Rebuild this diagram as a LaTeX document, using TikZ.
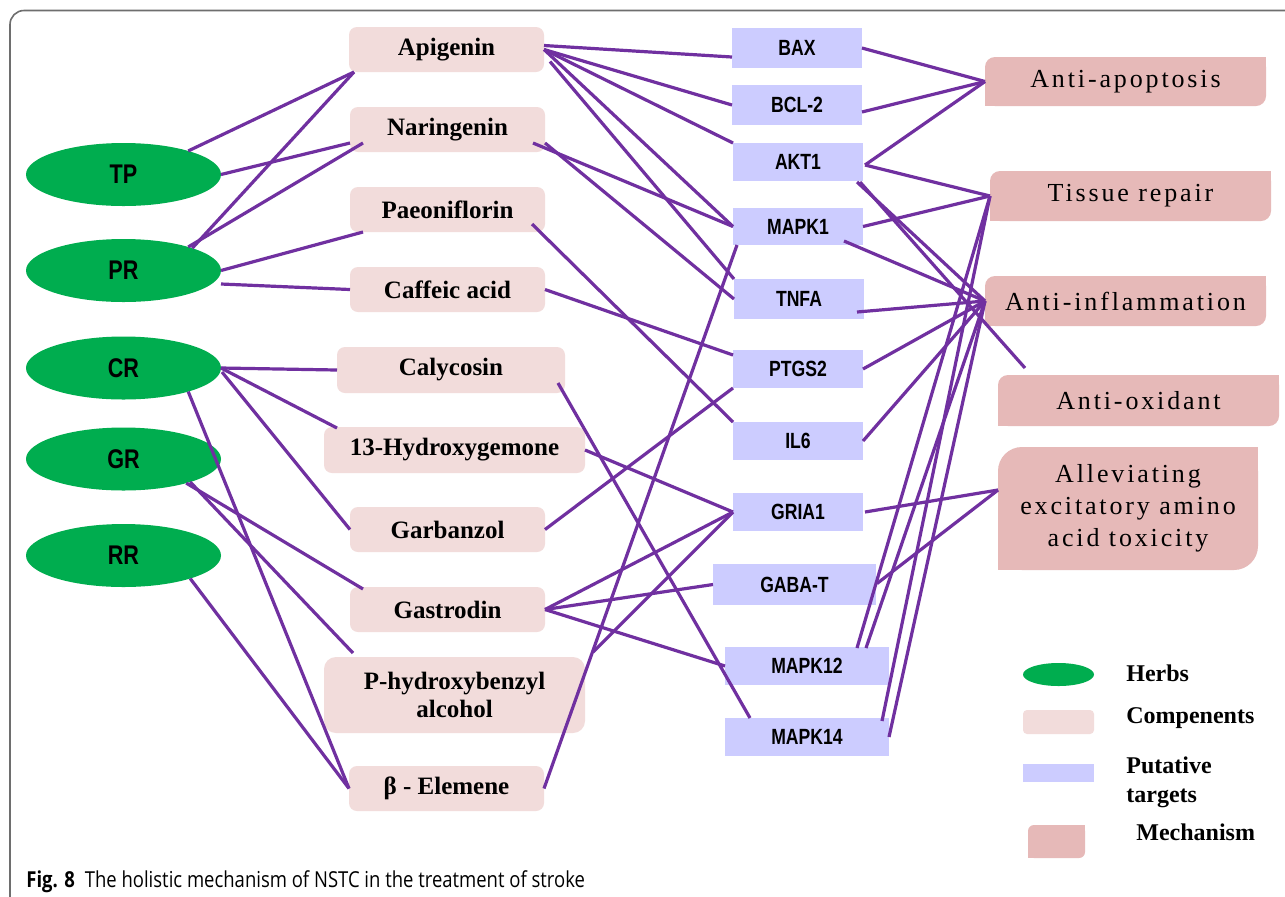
\documentclass[tikz,border=0pt]{standalone}
\usepackage{fontspec}
\usetikzlibrary{shapes.geometric,calc}
\newfontfamily\herbfont{Liberation Sans}[FakeStretch=0.8]
\newfontfamily\compfont{Liberation Serif}
\newfontfamily\mechfont{Liberation Serif}[LetterSpace=11]
\newfontfamily\capfont{Open Sans}[FakeStretch=0.84]
\definecolor{herbcol}{HTML}{00AD4F}
\definecolor{compcol}{HTML}{F2DCDB}
\definecolor{targcol}{HTML}{CCCCFF}
\definecolor{mechcol}{HTML}{E6B9B8}
\definecolor{linkcol}{HTML}{7030A0}
\definecolor{framecol}{HTML}{6E6E6E}
\begin{document}
\begin{tikzpicture}[x=0.5pt,y=-0.5pt,
 herb/.style={ellipse, fill=herbcol, inner sep=0, outer sep=0, minimum width=97.5pt, minimum height=31.5pt,
   font=\herbfont\bfseries\fontsize{13.5}{15}\selectfont},
 comp/.style={rectangle, rounded corners=4pt, fill=compcol, inner sep=0, outer sep=0, minimum width=97.5pt, minimum height=22.5pt,
   font=\compfont\bfseries\fontsize{12.5}{14}\selectfont, align=center},
 targ/.style={rectangle, fill=targcol, inner sep=0, outer sep=0, minimum width=65pt, minimum height=19pt,
   font=\herbfont\bfseries\fontsize{11}{12}\selectfont},
 mech/.style={rectangle, fill=white, inner sep=0, outer sep=0, minimum width=140.5pt, minimum height=25pt,
   font=\mechfont\fontsize{13}{16}\selectfont, align=center,
   path picture={
     \fill[mechcol, rounded corners=#1] (path picture bounding box.south west) rectangle (path picture bounding box.north east);
     \fill[mechcol] (path picture bounding box.north east) rectangle ([xshift=-#1,yshift=-#1]path picture bounding box.north east);
     \fill[mechcol] (path picture bounding box.south west) rectangle ([xshift=#1,yshift=#1]path picture bounding box.south west);
   }},
 mech/.default=5pt,
 legtext/.style={anchor=west, inner sep=0, font=\compfont\bfseries\fontsize{12}{14.5}\selectfont, align=left},
 link/.style={draw=linkcol, line width=1.6pt},
]
\useasboundingbox (0,0) rectangle (1285,896);
\fill[white] (0,0) rectangle (1285,896);
% frame
\draw[framecol, line width=0.8pt, rounded corners=7pt] (10,905) -- (10,10.5) -- (1295,10.5);

% herbs
\node[herb] (TP) at (123.5,174.5) {TP};
\node[herb] (PR) at (123.5,270.5) {PR};
\node[herb] (CR) at (123.5,368) {CR};
\node[herb] (GR) at (123.5,459) {GR};
\node[herb] (RR) at (123.5,555.5) {RR};

% components
\node[comp] (Apig) at (446.5,49.5) {Apigenin};
\node[comp] (Nar) at (447.5,129.5) {Naringenin};
\node[comp] (Pae) at (447.5,209.5) {Paeoniflorin};
\node[comp] (Caf) at (447.5,289.5) {Caffeic acid};
\node[comp, minimum width=114pt, minimum height=23pt] (Caly) at (451,370) {Calycosin};
\node[comp, minimum width=130.5pt, minimum height=23pt] (Hyd) at (454.5,450) {13-Hydroxygemone};
\node[comp] (Garb) at (447.5,529.5) {Garbanzol};
\node[comp] (Gas) at (447.5,609.5) {Gastrodin};
\node[comp, minimum width=130.5pt, minimum height=38pt, rounded corners=6pt] (PHB) at (454.5,695) {P-hydroxybenzyl\\alcohol};
\node[comp] (Elem) at (446.5,788.5) {β - Elemene};

% targets
\node[targ, minimum height=20pt] (BAX) at (797,48) {BAX};
\node[targ, minimum height=20pt] (BCL) at (797,105) {BCL-2};
\node[targ] (AKT) at (798,162) {AKT1};
\node[targ, minimum height=18.5pt] (MAPKa) at (798,226.5) {MAPK1};
\node[targ, minimum height=20pt] (TNFA) at (799,299) {TNFA};
\node[targ] (PTG) at (798,369) {PTGS2};
\node[targ] (IL) at (798,441) {IL6};
\node[targ] (GRIA) at (798,512) {GRIA1};
\node[targ, minimum width=81.5pt, minimum height=20.5pt] (GABA) at (794.5,584.5) {GABA-T};
\node[targ, minimum width=82pt] (MAPKb) at (807,666) {MAPK12};
\node[targ, minimum width=82pt] (MAPKc) at (807,737) {MAPK14};

% mechanisms
\node[mech, minimum height=24.5pt] (AA) at (1125.5,81.5) {Anti-apoptosis};
\node[mech] (TR) at (1130.5,196) {Tissue repair};
\node[mech] (AI) at (1125.5,301) {Anti-inflammation};
\node[mech, minimum height=25.5pt] (AO) at (1138.5,400.5) {Anti-oxidant};
\node[mech=12pt, minimum width=130pt, minimum height=61.5pt] (AL) at (1128,508.5) {Alleviating\\excitatory amino\\acid toxicity};
\coordinate (aoend) at ($(AO.north west)+(27,-7)$);
\coordinate (alend) at ($(AL.north west)+(0,43)$);

% legend
\node[herb, minimum width=35.5pt, minimum height=11.5pt] (LH) at (1058.5,674.5) {};
\node[comp, minimum width=35.5pt, minimum height=12pt, rounded corners=2pt] (LC) at (1058.5,722) {};
\node[targ, minimum width=35.5pt, minimum height=9pt] (LT) at (1058.5,773) {};
\node[mech=3pt, minimum width=28.5pt, minimum height=16.5pt] (LM) at (1056.5,841.5) {};
\node[legtext] (LHt) at (1126,673) {Herbs};
\node[legtext] (LCt) at (1126,718) {Compenents};
\node[legtext] (LTt) at (1126,782.5) {Putative\\targets};
\node[legtext] (LMt) at (1136,832) {Mechanism};

% caption
\node[anchor=base west, inner sep=0, font=\capfont\fontsize{11}{13}\selectfont] (cap) at (26,887)
  {\textbf{Fig. 8}\hspace{5pt}The holistic mechanism of NSTC in the treatment of stroke};

% herb -> component
\draw[link] (TP.20) -- ($(Apig.south west)+(5,0)$);
\draw[link] (TP.east) -- ($(Nar.south west)+(0,-9)$);
\draw[link] (PR.18) -- ($(Apig.south west)+(5,0)$);
\draw[link] (PR.20) -- ($(Nar.south west)+(13,-9)$);
\draw[link] (PR.east) -- ($(Pae.south west)+(13,0)$);
\draw[link] ($(PR.east)+(0,13.5)$) -- (Caf.west);
\draw[link] (CR.east) -- (Caly.west);
\draw[link] (CR.east) -- ($(Hyd.north west)+(13,1)$);
\draw[link] ($(CR.east)+(1,4)$) -- (Garb.west);
\draw[link] (CR.-20) -- (Elem.west);
\draw[link] (GR.-19) -- ($(PHB.north west)+(29,-4)$);
\draw[link] (GR.-21) -- ($(Gas.north west)+(13,2)$);
\draw[link] (RR.-19) -- (Elem.west);

% component -> target
\draw[link] ($(Apig.east)+(0,-4)$) -- ($(BAX.west)+(0,9)$);
\draw[link] (Apig.east) -- (BCL.west);
\draw[link] (Apig.east) -- (AKT.north west);
\draw[link] (Apig.east) -- (MAPKa.west);
\draw[link] ($(Apig.east)+(6,12)$) -- (TNFA.north west);
\draw[link] ($(Nar.south east)+(-12,-9)$) -- (MAPKa.west);
\draw[link] ($(Nar.south east)+(0,-9)$) -- (TNFA.west);
\draw[link] ($(Pae.south east)+(-13,-8)$) -- (IL.north west);
\draw[link] (Caf.east) -- ($(PTG.north west)+(0,5)$);
\draw[link] ($(Caly.south east)+(-7,-10)$) -- ($(MAPKc.north west)+(25,0)$);
\draw[link] (Hyd.east) -- (GRIA.west);
\draw[link] (Garb.east) -- (PTG.south west);
\draw[link] (Gas.east) -- (GRIA.west);
\draw[link] (Gas.east) -- (GABA.west);
\draw[link] (Gas.east) -- (MAPKb.west);
\draw[link] ($(PHB.north east)+(8,-5)$) -- (GRIA.west);
\draw[link] (Elem.east) -- ($(MAPKa.south west)+(4,0)$);

% target -> mechanism
\draw[link] (BAX.east) -- (AA.west);
\draw[link] ($(BCL.east)+(0,7)$) -- (AA.west);
\draw[link] ($(AKT.east)+(2,3)$) -- (AA.west);
\draw[link] ($(AKT.east)+(2,3)$) -- (TR.west);
\draw[link] ($(AKT.south east)+(-6,1)$) -- (AI.west);
\draw[link] ($(AKT.south east)+(-3,1)$) -- (aoend);
\draw[link] (MAPKa.east) -- (TR.west);
\draw[link] ($(MAPKa.south east)+(-19,-4)$) -- (AI.west);
\draw[link] ($(TNFA.south east)+(-7,-7)$) -- (AI.west);
\draw[link] (PTG.east) -- (AI.west);
\draw[link] (IL.east) -- (AI.west);
\draw[link] ($(MAPKb.north east)+(-32,1)$) -- (TR.west);
\draw[link] ($(MAPKb.north east)+(-23,1)$) -- (AI.west);
\draw[link] ($(MAPKc.north east)+(-7,3)$) -- (TR.west);
\draw[link] (MAPKc.east) -- (AI.west);
\draw[link] ($(GRIA.east)+(2,0)$) -- (alend);
\draw[link] ($(GABA.east)+(1,-1)$) -- (alend);
\end{tikzpicture}
\end{document}
